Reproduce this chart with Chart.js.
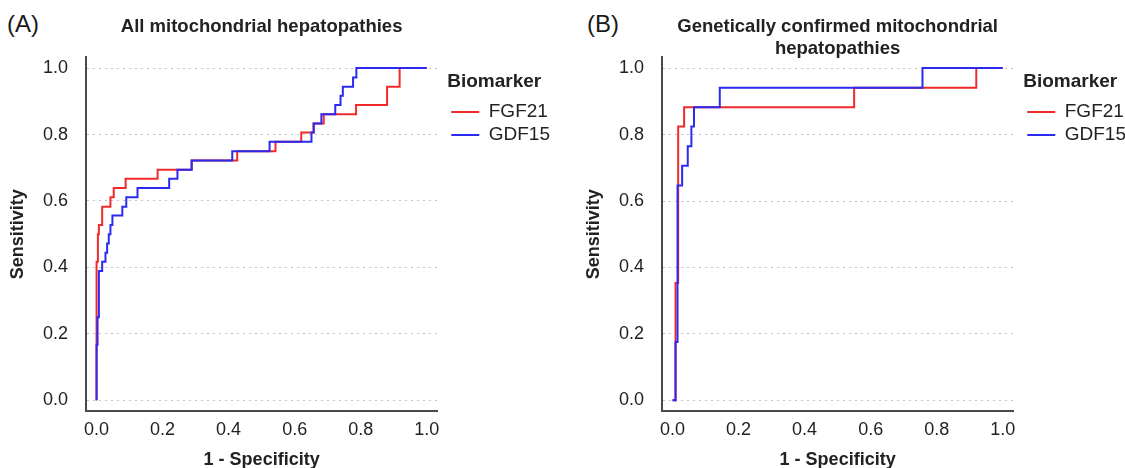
<!DOCTYPE html>
<html>
<head>
<meta charset="utf-8">
<script src="https://cdn.jsdelivr.net/npm/chart.js@4.4.1/dist/chart.umd.min.js"></script>
<style>
html, body { margin: 0; padding: 0; background: #fff; width: 1125px; height: 468px; overflow: hidden; }
canvas { position: absolute; top: 0; }
.tag { position: absolute; top: 12px; font: 24px 'Liberation Sans', Arial, sans-serif; line-height: 24px; color: #1a1a1a; }
</style>
</head>
<body>
<div class="tag" style="left:7px">(A)</div>
<div class="tag" style="left:587px">(B)</div>
<canvas id="roc-all" width="560" height="480" style="left:0"></canvas>
<canvas id="roc-gen" width="560" height="480" style="left:576px"></canvas>
<script>
// ROC curves (step points: x = 1 - specificity, y = sensitivity)
const tickVals = [0, 0.2, 0.4, 0.6, 0.8, 1.0];
const seriesNames = ['FGF21', 'GDF15'];
const seriesColors = ['#f02a2a', '#2a2af0'];

// (A) all mitochondrial hepatopathies
const fgf21AllX = [0, 0, 0.004, 0.007, 0.017, 0.042, 0.052, 0.088, 0.185, 0.288, 0.426, 0.542, 0.62, 0.657, 0.688, 0.786, 0.88, 0.918, 1.0];
const fgf21AllY = [0, 0.417, 0.5, 0.528, 0.583, 0.611, 0.639, 0.667, 0.694, 0.722, 0.75, 0.778, 0.806, 0.833, 0.861, 0.889, 0.944, 1.0, 1.0];
const gdf15AllX = [0, 0, 0.003, 0.007, 0.017, 0.027, 0.032, 0.037, 0.042, 0.048, 0.078, 0.09, 0.124, 0.22, 0.245, 0.288, 0.411, 0.524, 0.651, 0.658, 0.681, 0.723, 0.739, 0.746, 0.777, 0.787, 1.0];
const gdf15AllY = [0, 0.167, 0.25, 0.389, 0.417, 0.444, 0.472, 0.5, 0.528, 0.556, 0.583, 0.611, 0.639, 0.667, 0.694, 0.722, 0.75, 0.778, 0.806, 0.833, 0.861, 0.889, 0.917, 0.944, 0.972, 1.0, 1.0];

// (B) genetically confirmed
const fgf21GenX = [0, 0.009, 0.017, 0.035, 0.55, 0.92, 1.0];
const fgf21GenY = [0, 0.353, 0.824, 0.882, 0.941, 1.0, 1.0];
const gdf15GenX = [0, 0.009, 0.015, 0.029, 0.046, 0.057, 0.065, 0.143, 0.757, 1.0];
const gdf15GenY = [0, 0.176, 0.647, 0.706, 0.765, 0.824, 0.882, 0.941, 1.0, 1.0];

const FONT = "'Liberation Sans', Arial, sans-serif";
const INK = '#222';

function pts(xs, ys) {
  return xs.map((x, i) => ({ x: x, y: ys[i] }));
}

function rocChart(id, title, fgfX, fgfY, gdfX, gdfY) {
  const axisRange = { min: -0.032, max: 1.032 };
  return new Chart(document.getElementById(id), {
    type: 'line',
    data: {
      datasets: [
        { label: seriesNames[0], data: pts(fgfX, fgfY), borderColor: seriesColors[0], backgroundColor: seriesColors[0],
          borderWidth: 2, pointRadius: 0, stepped: 'before', order: 1, xAxisID: 'x', yAxisID: 'y' },
        { label: seriesNames[1], data: pts(gdfX, gdfY), borderColor: seriesColors[1], backgroundColor: seriesColors[1],
          borderWidth: 2, pointRadius: 0, stepped: 'before', order: 0, xAxisID: 'x', yAxisID: 'y' }
      ]
    },
    options: {
      responsive: false,
      animation: false,
      font: { family: FONT },
      scales: {
        x: {
          type: 'linear', min: axisRange.min, max: axisRange.max,
          afterBuildTicks: s => { s.ticks = tickVals.map(v => ({ value: v })); },
          afterFit: s => { s.height = 69; },
          ticks: { callback: v => v.toFixed(1), font: { family: FONT, size: 18 }, color: INK, padding: 8, maxRotation: 0 },
          grid: { drawOnChartArea: false, drawTicks: false },
          border: { display: true, color: '#4a4a4a', width: 2 },
          title: { display: true, text: '1 - Specificity', color: INK, font: { family: FONT, size: 18, weight: 'bold' }, padding: { top: 0, bottom: 9 } }
        },
        y: {
          type: 'linear', min: axisRange.min, max: axisRange.max,
          afterBuildTicks: s => { s.ticks = tickVals.map(v => ({ value: v })); },
          afterFit: s => { s.width = 86; },
          ticks: { callback: v => v.toFixed(1), font: { family: FONT, size: 18 }, color: INK, padding: 18 },
          grid: { color: '#c2c2c2', lineWidth: 1, drawTicks: false },
          border: { display: true, color: '#4a4a4a', width: 2, dash: [2, 4] },
          title: { display: true, text: 'Sensitivity', color: INK, font: { family: FONT, size: 18, weight: 'bold' }, padding: { top: 7, bottom: 0 } }
        },
        // empty spacer between plot and legend
        gap: {
          type: 'linear', position: 'right', display: true,
          afterFit: s => { s.width = 10; },
          ticks: { display: false }, grid: { display: false, drawTicks: false }, border: { display: false }
        }
      },
      plugins: {
        title: {
          display: true, text: title, fullSize: false, color: INK,
          font: { family: FONT, size: 18.5, weight: 'bold', lineHeight: 1.17 },
          padding: { top: 16.5, bottom: Array.isArray(title) ? -2.3 : 19.3 }
        },
        legend: {
          position: 'right', align: 'start', reverse: true, maxWidth: 200,
          title: { display: true, text: 'Biomarker', color: INK, position: 'start',
                   font: { family: FONT, size: 19, weight: 'bold' }, padding: { top: 72.5, bottom: 3.2 } },
          labels: { usePointStyle: true, pointStyle: 'line', pointStyleWidth: 28, boxHeight: 19,
                    font: { family: FONT, size: 19 }, color: INK, padding: 4 }
        },
        tooltip: { enabled: false }
      }
    }
  });
}

rocChart('roc-all', 'All mitochondrial hepatopathies', fgf21AllX, fgf21AllY, gdf15AllX, gdf15AllY);
rocChart('roc-gen', ['Genetically confirmed mitochondrial', 'hepatopathies'], fgf21GenX, fgf21GenY, gdf15GenX, gdf15GenY);
</script>
</body>
</html>
